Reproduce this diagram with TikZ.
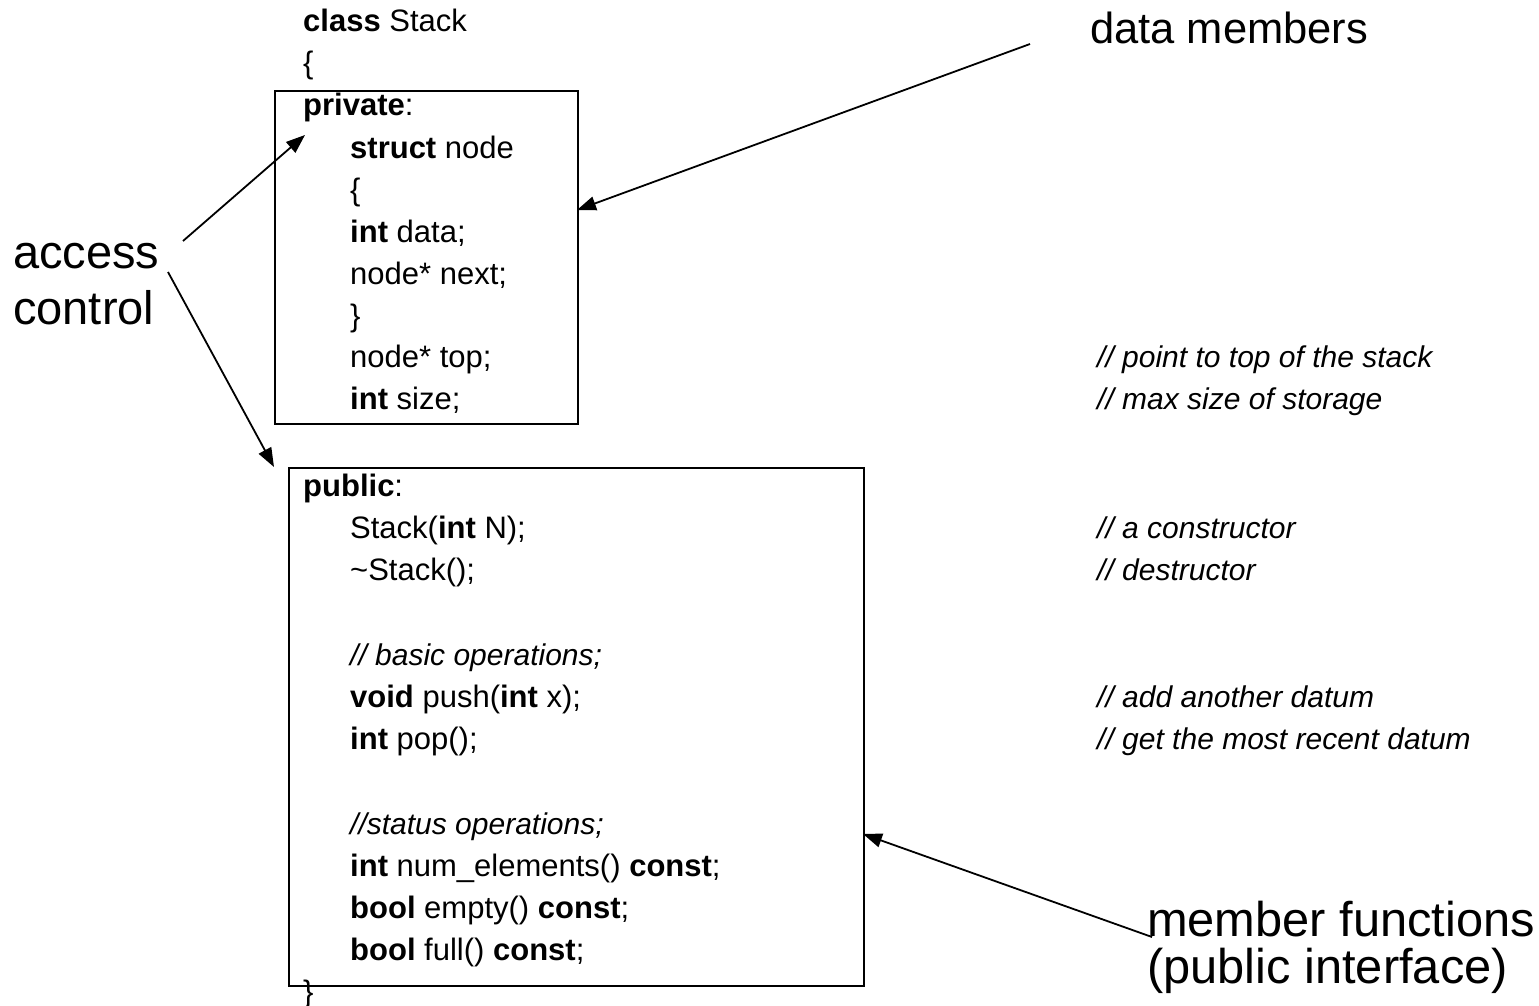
\documentclass[tikz,border=0pt]{standalone}
\usepackage{fontspec}
\setmainfont{Liberation Sans}
\usetikzlibrary{positioning,arrows.meta}

\begin{document}
\begin{tikzpicture}[x=1pt, y=-1pt,
codeline/.style={anchor=base west, inner sep=0pt, font=\fontsize{31}{42}\selectfont},
remark/.style={anchor=base west, inner sep=0pt, font=\fontsize{30}{42}\selectfont\itshape},
bigtext/.style={anchor=base west, inner sep=0pt, align=left, font=\fontsize{47}{56}\selectfont},
scopebox/.style={draw, line width=1.8pt, anchor=north west, inner sep=0pt},
pointer/.style={-{Triangle[length=19pt, width=14pt]}, line width=1.8pt},
]
\useasboundingbox (0,0) rectangle (1539,1006);

%Boxes
\node[scopebox, minimum width=303pt, minimum height=333pt] (privbox) at (274,90) {};
\node[scopebox, minimum width=575pt, minimum height=518pt] (pubbox)  at (288,467) {};

%Class head and private part
\node[codeline] (classhead) at (303,32)  {\textbf{class} Stack};
\node[codeline] (openclass) at (303,74)  {\{};
\node[codeline] (privlbl)   at (303,116) {\textbf{private}:};
\node[codeline] (structhd)  at (350,158) {\textbf{struct} node};
\node[codeline] (openstruct) at (350,200) {\{};
\node[codeline] (datafld)   at (350,242) {\textbf{int} data;};
\node[codeline] (nextfld)   at (350,284) {node* next;};
\node[codeline] (closestruct) at (350,326) {\}};
\node[codeline] (topfld)    at (350,367) {node* top;};
\node[codeline] (sizefld)   at (350,409) {\textbf{int} size;};

%Public part
\node[codeline] (publbl)    at (303,496) {\textbf{public}:};
\node[codeline] (ctor)      at (350,538) {Stack(\textbf{int} N);};
\node[codeline] (dtor)      at (350,580) {\textasciitilde Stack();};
\node[remark]   (basichd)   at (350,665) {// basic operations;};
\node[codeline] (pushfn)    at (350,707) {\textbf{void} push(\textbf{int} x);};
\node[codeline] (popfn)     at (350,749) {\textbf{int} pop();};
\node[remark]   (statushd)  at (350,834) {//status operations;};
\node[codeline] (numfn)     at (350,876) {\textbf{int} num\_elements() \textbf{const};};
\node[codeline] (emptyfn)   at (350,918) {\textbf{bool} empty() \textbf{const};};
\node[codeline] (fullfn)    at (350,960) {\textbf{bool} full() \textbf{const};};
\node[codeline] (closeclass) at (303,1002) {\}};

%Comments
\node[remark] (topnote)   at (1097,367) {// point to top of the stack};
\node[remark] (sizenote)  at (1097,409) {// max size of storage};
\node[remark] (ctornote)  at (1097,538) {// a constructor};
\node[remark] (dtornote)  at (1097,580) {// destructor};
\node[remark] (pushnote)  at (1097,707) {// add another datum};
\node[remark] (popnote)   at (1097,749) {// get the most recent datum};

%Labels
\node[bigtext] (access)  at (13,324)   {access\\control};
\node[bigtext, font=\fontsize{43.5}{50}\selectfont] (datamem) at (1090,44) {data members};
\node[bigtext, font=\fontsize{48.8}{47}\selectfont] (memfun)  at (1147,983) {member functions\\(public interface)};

%Arrow ends
\coordinate (accup)     at (183,241);
\coordinate (acclow)    at (168,272);
\coordinate (privtip)   at (305,135);
\coordinate (pubtip)    at (274,467);
\coordinate (datafrom)  at (1030,44);
\coordinate (datatip)   at (577,210);
\coordinate (memfrom)   at (1152,937);
\coordinate (memtip)    at (863,834);

%Lines
\draw[pointer] (accup) -- (privtip);
\draw[pointer] (acclow) -- (pubtip);
\draw[pointer] (datafrom) -- (datatip);
\draw[pointer] (memfrom) -- (memtip);
\end{tikzpicture}
\end{document}
